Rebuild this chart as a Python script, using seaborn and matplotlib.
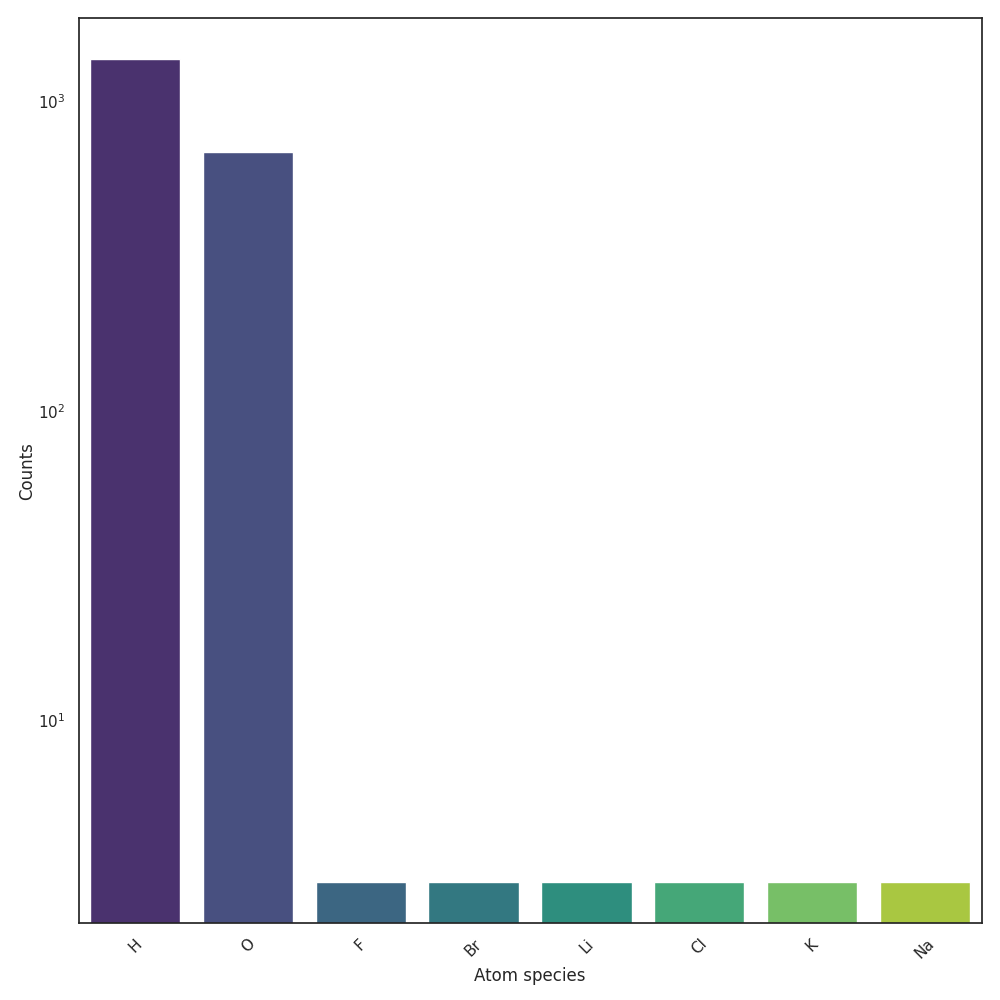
import matplotlib
matplotlib.use("Agg")
import matplotlib.pyplot as plt
import seaborn as sns
import pandas as pd

species = ["H", "O", "F", "Br", "Li", "Cl", "K", "Na"]
counts = [1367, 684, 3, 3, 3, 3, 3, 3]

df = pd.DataFrame({"Atom species": species, "Counts": counts})

sns.set_theme(style="white")
plt.figure(figsize=(10, 10))
ax = sns.barplot(data=df, x="Atom species", y="Counts", hue="Atom species",
                 palette="viridis", legend=False)
ax.set_yscale("log")
ax.set_ylabel("Counts", labelpad=1.5)
plt.xticks(rotation=45)
plt.subplots_adjust(left=0.0785, right=0.9815, top=0.9817, bottom=0.077)
plt.savefig("out.png", dpi=100)
